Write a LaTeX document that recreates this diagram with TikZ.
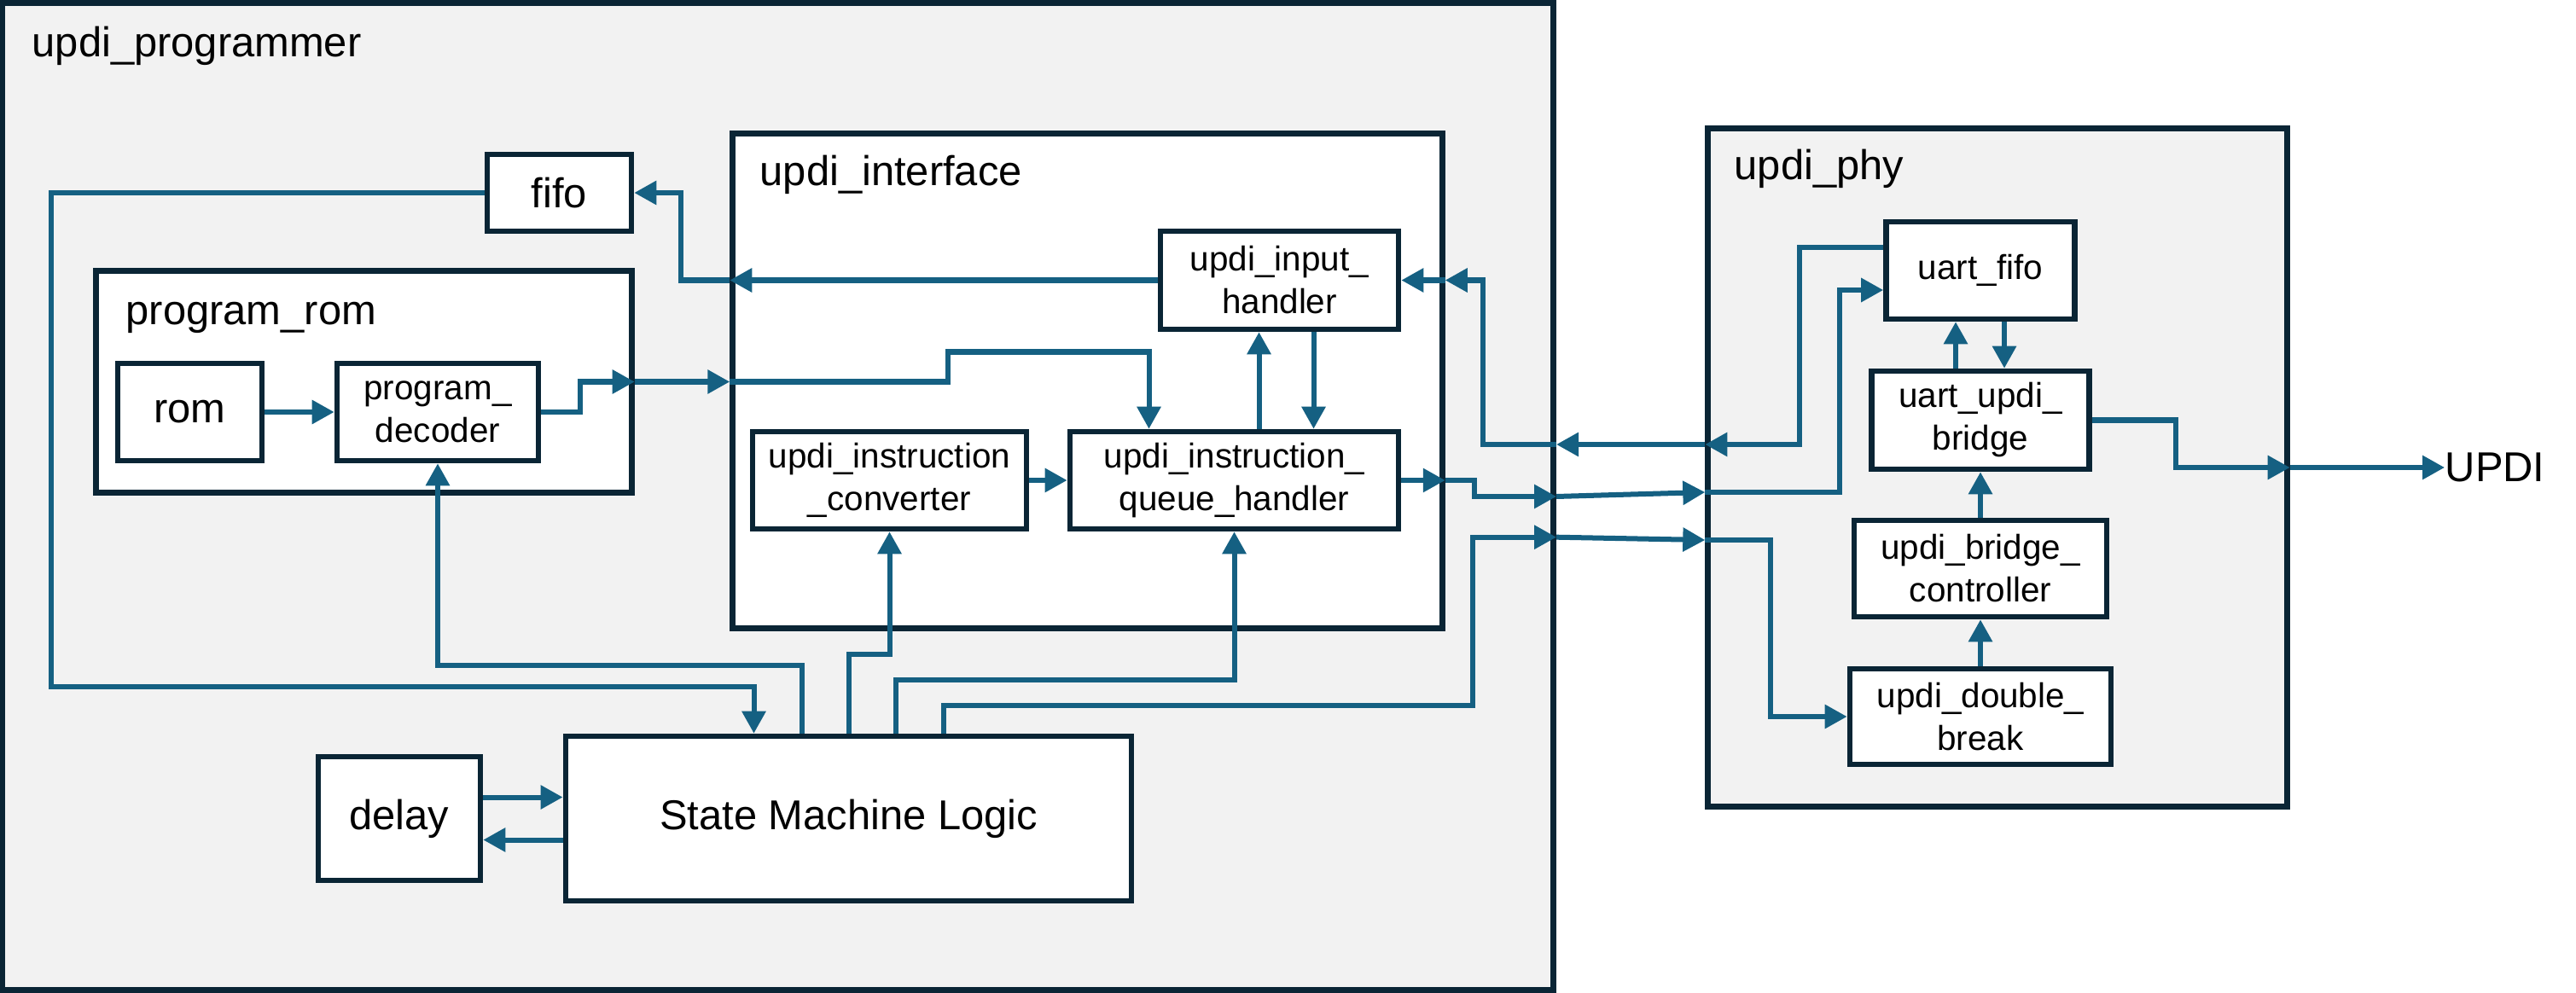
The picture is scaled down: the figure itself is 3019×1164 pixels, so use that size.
\documentclass[tikz,border=0pt]{standalone}
\usepackage{fontspec}
\setmainfont{Liberation Sans}
\usetikzlibrary{arrows.meta,calc}
\definecolor{boxline}{HTML}{0A2535}
\definecolor{wireblue}{HTML}{156082}
\definecolor{panelgray}{HTML}{F2F2F2}

\begin{document}
\begin{tikzpicture}[
  x=0.01cm,y=-0.01cm,
  lbl/.style={font=\fontsize{13.9}{17}\selectfont,inner sep=0pt},
  cont/.style={draw=boxline,line width=0.07cm,fill=#1,inner sep=0pt},
  blk/.style={draw=boxline,line width=0.065cm,fill=white,inner sep=0pt,align=center,font=\fontsize{11.5}{14.2}\selectfont},
  bigblk/.style={blk,font=\fontsize{13.9}{17}\selectfont},
  arr/.style={-{Triangle[length=0.26cm,width=0.27cm]},line width=0.06cm,draw=wireblue}
]
\useasboundingbox (0,0) rectangle (3019,1164);
\node[cont=panelgray,minimum width=18.165cm,minimum height=11.565cm] (prog) at (911.75,581.75) {};
\node[cont=panelgray,minimum width=6.78cm,minimum height=7.94cm] (phy) at (2341,548) {};
\node[cont=white,minimum width=6.27cm,minimum height=2.59cm] (prom) at (426.5,447.5) {};
\node[cont=white,minimum width=8.31cm,minimum height=5.79cm] (iface) at (1274.5,446.5) {};
\node[lbl,anchor=base west] (progl) at (37,67) {updi\_programmer};
\node[lbl,anchor=base west] (proml) at (147,380) {program\_rom};
\node[lbl,anchor=base west] (ifacel) at (890,218) {updi\_interface};
\node[lbl,anchor=base west] (phyl) at (2032,211) {updi\_phy};

\node[bigblk,minimum width=1.69cm,minimum height=0.9cm] (fifo) at (655.5,226) {fifo};
\node[bigblk,minimum width=1.69cm,minimum height=1.14cm] (rom) at (222.5,483) {rom};
\node[blk,minimum width=2.36cm,minimum height=1.14cm] (dec) at (513,483) {program\_\\decoder};
\node[blk,minimum width=2.79cm,minimum height=1.15cm] (hnd) at (1499.5,328.5) {updi\_input\_\\handler};
\node[blk,minimum width=3.21cm,minimum height=1.14cm] (conv) at (1042.5,563) {updi\_instruction\\\_converter};
\node[blk,minimum width=3.85cm,minimum height=1.14cm] (que) at (1446.5,563) {updi\_instruction\_\\queue\_handler};
\node[bigblk,minimum width=6.63cm,minimum height=1.93cm] (sm) at (994.5,959.5) {State Machine Logic};
\node[bigblk,minimum width=1.9cm,minimum height=1.45cm] (dly) at (468,959.5) {delay};
\node[blk,minimum width=2.21cm,minimum height=1.14cm] (ufifo) at (2321,317) {uart\_fifo};
\node[blk,minimum width=2.55cm,minimum height=1.15cm] (brg) at (2321,492.5) {uart\_updi\_\\bridge};
\node[blk,minimum width=2.96cm,minimum height=1.13cm] (ctrl) at (2321,666.5) {updi\_bridge\_\\controller};
\node[blk,minimum width=3.06cm,minimum height=1.12cm] (dbrk) at (2321,840) {updi\_double\_\\break};
\node[lbl,anchor=west] (updi) at (2865,548) {UPDI};

\coordinate (pa) at ($(phy.west)+(0,-27)$);
\coordinate (pq) at ($(phy.west)+(0,29)$);
\coordinate (ps) at ($(phy.west)+(0,85)$);

% program rom
\draw[arr] (rom) -- (dec);
\draw[arr] (dec.east) -- ++(46,0) |- (prom.east);
\draw[arr] (prom.east) -- (prom.east -| iface.west);
\draw[arr] (prom.east -| iface.west) -| ++(256,-35) -| ($(que.north)+(-100,0)$);

% interface
\draw[arr] (conv) -- (que);
\draw[arr] ($(que.north)+(29,0)$) -- ($(hnd.south)+(-24,0)$);
\draw[arr] ($(hnd.south)+(40,0)$) -- ($(que.north)+(93,0)$);
\draw[arr] (hnd.west) -- (hnd.west -| iface.west);
\draw[arr] (hnd.west -| iface.west) -| ($(fifo.east)+(55,0)$) -- (fifo.east);
\draw[arr] (fifo.west) -| (60,805) -| ($(sm.north)+(-111,0)$);

% state machine
\draw[arr] ($(sm.north)+(-55,0)$) -- ++(0,-80) -| (dec.south);
\draw[arr] (sm.north) -- ++(0,-93) -| (conv.south);
\draw[arr] ($(sm.north)+(55,0)$) -- ++(0,-63) -| (que.south);
\draw[arr] ($(sm.north)+(111,0)$) -- ++(0,-33) -| ++(620,-197) coordinate (sa) -- (sa -| prog.east);
\draw[arr] (sa -| prog.east) -- (ps);
\draw[arr] (ps) -| ($(dbrk.west)+(-90,0)$) -- (dbrk.west);
\draw[arr] ($(dly.east)+(0,-25)$) -- ($(sm.west)+(0,-25)$);
\draw[arr] ($(sm.west)+(0,25)$) -- ($(dly.east)+(0,25)$);

% to and from the phy
\draw[arr] (que.east) -- (que.east -| iface.east);
\draw[arr] (que.east -| iface.east) -| ++(34,19) coordinate (qa) -- (qa -| prog.east);
\draw[arr] (qa -| prog.east) -- (pq);
\draw[arr] (pq) -| ($(ufifo.west)+(-51,23)$) -- ($(ufifo.west)+(0,23)$);
\draw[arr] ($(ufifo.west)+(0,-27)$) -- ++(-98,0) |- (pa);
\draw[arr] (pa) -- (pa -| prog.east);
\draw[arr] (pa -| prog.east) -| ($(hnd.east)+(96,0)$) -- (hnd.east -| iface.east);
\draw[arr] (hnd.east -| iface.east) -- (hnd.east);

% phy
\draw[arr] ($(brg.north)+(-29,0)$) -- ($(ufifo.south)+(-29,0)$);
\draw[arr] ($(ufifo.south)+(28,0)$) -- ($(brg.north)+(28,0)$);
\foreach \a/\b in {dbrk/ctrl,ctrl/brg} \draw[arr] (\a) -- (\b);
\draw[arr] (brg.east) -- ++(98,0) |- (phy.east);
\draw[arr] (phy.east) -- (updi.west);
\end{tikzpicture}
\end{document}
